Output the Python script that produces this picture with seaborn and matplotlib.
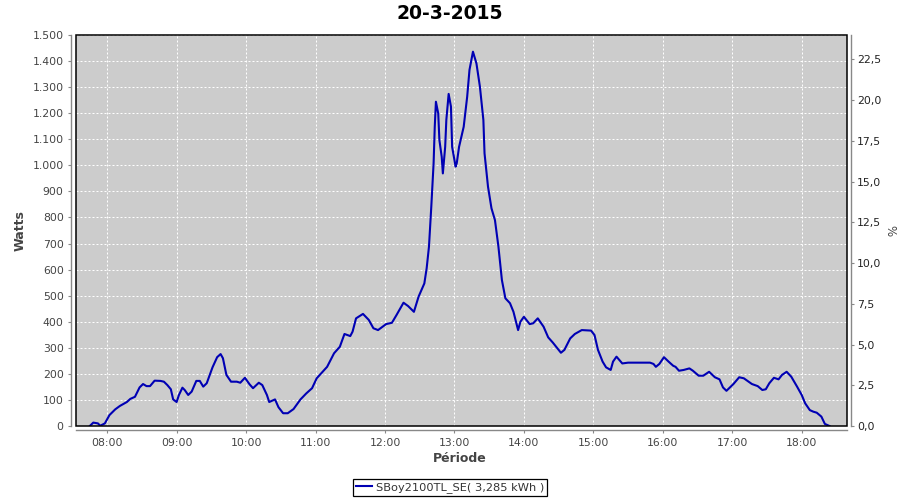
import numpy as np
import pandas as pd
import matplotlib
matplotlib.use("Agg")
import matplotlib.pyplot as plt
import seaborn as sns
from matplotlib.ticker import FuncFormatter, FixedLocator, MultipleLocator
from matplotlib.patches import Rectangle

# ---------------- data ----------------
title = "20-3-2015"
series_name = "SBoy2100TL_SE( 3,285 kWh )"
times = [
    "07:45", "07:48", "07:52", "07:54", "07:58", "08:02", "08:07", "08:11", "08:17", "08:20",
    "08:24", "08:28", "08:31", "08:34", "08:37", "08:41", "08:46", "08:49", "08:52", "08:55",
    "08:57", "09:00", "09:02", "09:05", "09:07", "09:10", "09:13", "09:17", "09:20", "09:23",
    "09:26", "09:31", "09:35", "09:38", "09:40", "09:43", "09:47", "09:52", "09:55", "09:59",
    "10:03", "10:06", "10:11", "10:14", "10:18", "10:20", "10:25", "10:28", "10:32", "10:36",
    "10:41", "10:47", "10:52", "10:57", "11:01", "11:07", "11:10", "11:16", "11:21", "11:25",
    "11:30", "11:32", "11:35", "11:41", "11:46", "11:50", "11:54", "12:01", "12:06", "12:10",
    "12:16", "12:20", "12:25", "12:29", "12:34", "12:36", "12:38", "12:40", "12:42", "12:43",
    "12:44", "12:46", "12:47", "12:49", "12:50", "12:52", "12:53", "12:55", "12:57", "12:58",
    "13:01", "13:02", "13:04", "13:08", "13:11", "13:13", "13:16", "13:19", "13:22", "13:25",
    "13:26", "13:29", "13:32", "13:35", "13:38", "13:41", "13:44", "13:48", "13:51", "13:55",
    "13:57", "14:00", "14:05", "14:08", "14:12", "14:15", "14:17", "14:21", "14:25", "14:29",
    "14:32", "14:35", "14:40", "14:44", "14:50", "14:58", "15:01", "15:04", "15:08", "15:11",
    "15:15", "15:17", "15:20", "15:25", "15:30", "15:49", "15:52", "15:54", "15:57", "16:01",
    "16:05", "16:09", "16:11", "16:14", "16:18", "16:23", "16:26", "16:31", "16:35", "16:40",
    "16:45", "16:49", "16:52", "16:55", "17:01", "17:06", "17:10", "17:17", "17:22", "17:26",
    "17:29", "17:32", "17:36", "17:40", "17:43", "17:47", "17:51", "17:56", "18:00", "18:03",
    "18:07", "18:10", "18:13", "18:17", "18:20", "18:24",
]
watts = [
    0, 13, 10, 1, 10, 42, 64, 77, 92, 104,
    112, 148, 161, 153, 153, 174, 173, 170, 157, 141,
    102, 92, 119, 147, 138, 119, 132, 173, 173, 151,
    164, 225, 264, 276, 260, 196, 170, 170, 166, 185,
    160, 145, 166, 157, 119, 92, 102, 72, 49, 49,
    65, 102, 125, 145, 183, 212, 227, 279, 304, 353,
    345, 362, 413, 430, 407, 375, 368, 391, 396, 426,
    473, 460, 438, 496, 547, 605, 688, 841, 1008, 1148,
    1244, 1199, 1097, 1033, 969, 1071, 1174, 1274, 1225, 1071,
    995, 1008, 1071, 1148, 1263, 1366, 1436, 1391, 1302, 1174,
    1046, 918, 835, 790, 688, 560, 490, 471, 438, 368,
    400, 419, 391, 394, 413, 394, 381, 340, 320, 298,
    281, 292, 336, 353, 368, 366, 349, 292, 247, 225,
    215, 247, 266, 240, 243, 243, 238, 227, 238, 264,
    247, 231, 227, 212, 215, 221, 212, 193, 193, 208,
    187, 179, 148, 135, 161, 187, 183, 161, 153, 138,
    141, 164, 185, 179, 196, 208, 189, 151, 119, 87,
    61, 55, 51, 36, 8, 0,
]
hour_ticks = [8, 9, 10, 11, 12, 13, 14, 15, 16, 17, 18]
watt_ticks = list(range(0, 1501, 100))
pct_ticks = [0.0, 2.5, 5.0, 7.5, 10.0, 12.5, 15.0, 17.5, 20.0, 22.5]

# ---------------- styling ----------------
plt.rcParams["font.family"] = ["DejaVu Sans"]
LINE = "#0000B4"
TXT = "#444444"
AXC = "#888888"

df = pd.DataFrame({
    "hour": [int(t[:2]) + int(t[3:]) / 60 for t in times],
    "watts": watts,
})

fig = plt.figure(figsize=(9, 5), dpi=100)
fig.patch.set_facecolor("white")
ax = fig.add_axes([75.5 / 900, 74 / 500, 771 / 900, 391 / 500])
ax.set_facecolor("#CCCCCC")

sns.lineplot(data=df, x="hour", y="watts", ax=ax, color=LINE, linewidth=1.5,
             label=series_name, legend=False, zorder=3)

ax.set_xlim(7.544, 18.645)
ax.set_ylim(0, 1500)
ax.xaxis.set_major_locator(FixedLocator(hour_ticks))
ax.xaxis.set_major_formatter(FuncFormatter(lambda v, p: f"{int(round(v)):02d}:00"))
ax.yaxis.set_major_locator(FixedLocator(watt_ticks))
ax.yaxis.set_major_formatter(FuncFormatter(lambda v, p: f"{int(round(v)):,}".replace(",", ".")))
ax.set_xlabel("")
ax.set_ylabel("")

ax.grid(True, color="white", linestyle=(0, (2, 2)), linewidth=0.72, zorder=1)
ax.set_axisbelow(True)

for s in ["top", "right"]:
    ax.spines[s].set_visible(False)
for s in ["left", "bottom"]:
    ax.spines[s].set_position(("outward", 3))
    ax.spines[s].set_color(AXC)
    ax.spines[s].set_linewidth(1.0)
ax.tick_params(axis="both", direction="out", length=2, width=0.8, color=AXC,
               labelcolor=TXT, labelsize=7.8, pad=3.5)

ax2 = ax.twinx()
ax2.set_ylim(0, 24.0)
ax2.yaxis.set_major_locator(FixedLocator(pct_ticks))
ax2.yaxis.set_major_formatter(FuncFormatter(lambda v, p: f"{v:.1f}".replace(".", ",")))
for s in ["top", "left", "bottom"]:
    ax2.spines[s].set_visible(False)
ax2.spines["right"].set_position(("outward", 3))
ax2.spines["right"].set_color(AXC)
ax2.spines["right"].set_linewidth(1.0)
ax2.tick_params(axis="y", direction="out", length=2, width=0.8, color=AXC,
                labelcolor="#222222", labelsize=7.8, pad=2.5)

# black plot frame
ax.add_patch(Rectangle((0, 0), 1, 1, transform=ax.transAxes, fill=False,
                       edgecolor="black", linewidth=1.1, clip_on=False, zorder=5))

# texts
fig.text(0.5, 1 - 13.5 / 500, title, ha="center", va="center",
         fontsize=13.5, fontweight="bold", color="black")
fig.text(20.5 / 900, 1 - 231 / 500, "Watts", ha="center", va="center",
         rotation=90, fontsize=9, fontweight="bold", color=TXT)
fig.text(459.5 / 900, 1 - 459 / 500, "Période", ha="center", va="center",
         fontsize=9, fontweight="bold", color=TXT)
fig.text(890 / 900, 1 - 231 / 500, "%", ha="center", va="center",
         rotation=-90, fontsize=8.5, color=TXT)

handles, labels = ax.get_legend_handles_labels()
leg = fig.legend(handles, labels, loc="center", bbox_to_anchor=(450 / 900, 1 - 487.5 / 500),
                 frameon=True, fancybox=False, framealpha=1, edgecolor="black",
                 fontsize=8.2, handlelength=1.35, handletextpad=0.35, borderpad=0.3,
                 borderaxespad=0)
leg.get_frame().set_linewidth(0.9)
for t in leg.get_texts():
    t.set_color("#333333")

fig.savefig("out.png", dpi=100)
